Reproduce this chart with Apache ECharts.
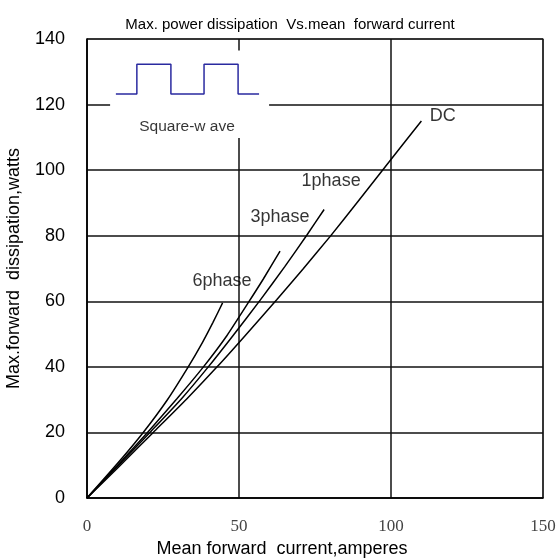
<!DOCTYPE html>
<html><head><meta charset="utf-8">
<script src="https://cdn.jsdelivr.net/npm/echarts@6/dist/echarts.min.js"></script>
<style>html,body{margin:0;padding:0;background:#fff}#c{width:558px;height:558px}</style>
</head><body><div id="c"></div>
<script>
// Data
const xTicks = [0, 50, 100, 150];
const yTicks = [0, 20, 40, 60, 80, 100, 120, 140];
const curve6phase = [[0,0],[10,10.5],[18.5,20],[26.4,29.9],[33.3,40],[38,47.5],[41.4,53.5],[44.6,59.5]];
const curve3phase = [[0,0],[10,9.9],[19.9,20],[29.5,30.2],[38.3,40],[46,49.5],[53,59.5],[58,66.8],[63.5,75.3]];
const curve1phase = [[0,0],[10,9.6],[20.7,20],[31.1,30.3],[39.9,40],[48,49.5],[57.1,60.5],[65,70.5],[72.4,80.3],[78,88]];
const curveDC = [[0,0],[10,9.1],[21.8,20],[32.8,30.2],[42.8,40],[52,49.5],[62.4,60.5],[71,69.8],[80,79.8],[89,90.3],[97.4,100.2],[104,108],[110,115]];
const curveLabels = [["6phase",44.4,66.2],["3phase",63.5,85.7],["1phase",80.3,96.6],["DC",117,116.5]];
const squareWave = [[9.5,123.2],[16.4,123.2],[16.4,132.3],[27.6,132.3],[27.6,123.2],[38.5,123.2],[38.5,132.3],[49.7,132.3],[49.7,123.2],[56.6,123.2]];
const insetBox = [[7.6,109.8],[59.9,136.5]];
const insetLabel = ["Square-w ave", 32.9, 113.1];

const chart = echarts.init(document.getElementById('c'));
const lineStyle = {color:'#000', width:1.5};
function curve(name, data){
  return {type:'line', name, data, showSymbol:false, smooth:0.2, lineStyle, z:5, animation:false};
}
chart.setOption({
  animation:false,
  backgroundColor:'#fff',
  title:{text:'Max. power dissipation  Vs.mean  forward current', left:285, top:12, textAlign:'center',
    textStyle:{fontFamily:'Liberation Sans', fontSize:15, fontWeight:'normal', color:'#000'}},
  grid:{left:87, right:15, top:39, bottom:60, show:true, borderColor:'#888', borderWidth:1.5,
    containLabel:false, outerBoundsMode:'none'},
  xAxis:{type:'value', min:0, max:150, interval:50,
    name:'Mean forward  current,amperes', nameLocation:'middle', nameGap:41,
    nameTextStyle:{fontFamily:'Liberation Sans', fontSize:18, color:'#000', padding:[0,66,0,0]},
    axisLine:{lineStyle:{color:'#000', width:1.5}},
    axisTick:{show:false},
    axisLabel:{fontFamily:'Liberation Serif', fontSize:17, color:'#444', margin:20,
      formatter:v=>xTicks.includes(v)?String(v):''},
    splitLine:{show:true, lineStyle:{color:'#111', width:1.5}}},
  yAxis:{type:'value', min:0, max:140, interval:20,
    name:'Max.forward  dissipation,watts', nameLocation:'middle', nameGap:64,
    nameTextStyle:{fontFamily:'Liberation Sans', fontSize:18, color:'#000'},
    axisLine:{show:true, lineStyle:{color:'#000', width:1.5}},
    axisTick:{show:false},
    axisLabel:{fontFamily:'Liberation Sans', fontSize:18, color:'#000', margin:22,
      formatter:v=>yTicks.includes(v)?String(v):''},
    splitLine:{show:true, lineStyle:{color:'#111', width:1.5}}},
  series:[
    {type:'line', data:[], z:3, silent:true,
      markArea:{silent:true, itemStyle:{color:'#fff', opacity:1},
        data:[[{coord:insetBox[0]},{coord:insetBox[1]}]]}},
    {type:'line', data:squareWave, showSymbol:false, z:4, lineStyle:{color:'#2a2aa0', width:1.5}},
    curve('6phase', curve6phase),
    curve('3phase', curve3phase),
    curve('1phase', curve1phase),
    curve('DC', curveDC),
    {type:'scatter', symbolSize:0, z:6,
      data:curveLabels.map(d=>({value:[d[1],d[2]], name:d[0]})),
      label:{show:true, position:'inside', formatter:p=>p.name, fontFamily:'Liberation Sans', fontSize:18, color:'#000'}},
    {type:'scatter', symbolSize:0, z:6,
      data:[{value:[insetLabel[1],insetLabel[2]], name:insetLabel[0]}],
      label:{show:true, position:'inside', formatter:p=>p.name, fontFamily:'Liberation Sans', fontSize:15.5, color:'#000'}}
  ]
});
</script></body></html>
